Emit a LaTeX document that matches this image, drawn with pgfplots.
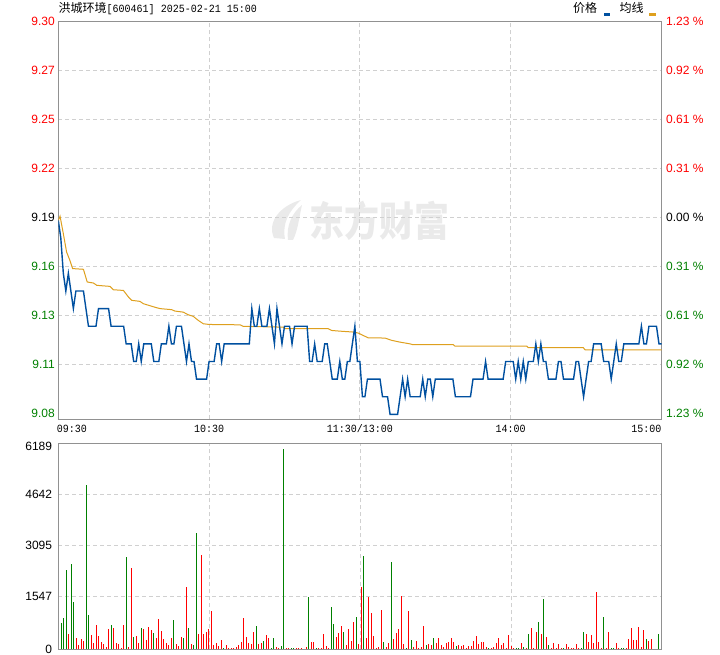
\documentclass[border=0pt]{standalone}
\usepackage{fontspec}
\setmainfont{Liberation Sans}
\newfontfamily\cjk{Noto Sans CJK SC}
\newfontfamily\monof{Liberation Mono}[FakeStretch=0.91]
\usepackage{pgfplots}
\pgfplotsset{compat=1.18}
\definecolor{pxred}{RGB}{255,0,0}
\definecolor{pxgreen}{RGB}{0,128,0}
\definecolor{pxblue}{RGB}{0,80,160}
\definecolor{pxgold}{RGB}{222,160,30}
\definecolor{gridc}{RGB}{208,208,208}
\definecolor{framec}{RGB}{145,145,145}
\definecolor{wmc}{RGB}{234,234,234}
\begin{document}
\begin{tikzpicture}[x=1pt,y=1pt]
\path[use as bounding box] (0,0) rectangle (720,655);
% watermark
\fill[wmc] (274,417) .. controls (267,432) and (279,449) .. (301,455) .. controls (289,444) and (282,432) .. (285,416) -- cycle;
\fill[wmc] (288,415) .. controls (286,429) and (292,442) .. (302,450) .. controls (299,437) and (298,425) .. (293,415) -- cycle;
\node[text=wmc, font=\cjk\fontsize{35}{35}\selectfont\bfseries, inner sep=0] at (379,434.5) {\scalebox{1}[1.16]{东方财富}};
% title
\node[anchor=base west, inner sep=0] at (58.5,642.5) {{\cjk\fontsize{12}{12}\selectfont 洪城环境}{\monof\fontsize{11}{11}\selectfont[600461] 2025-02-21 15:00}};
% legend
\node[anchor=base west, inner sep=0, font=\cjk\fontsize{12}{12}\selectfont] at (573,642) {价格};
\fill[pxblue] (604.3,639.2) rectangle (610,641.8);
\node[anchor=base west, inner sep=0, font=\cjk\fontsize{12}{12}\selectfont] at (619.3,642) {均线};
\fill[pxgold] (649.3,639.2) rectangle (656,641.8);

% ---------------- price panel ----------------
\begin{axis}[
  at={(58.3pt,235.7pt)}, anchor=south west,
  width=603.2pt, height=398pt, scale only axis,
  xmin=0, xmax=240, ymin=9.0772, ymax=9.303,
  axis line style={framec, line width=1pt},
  major tick length=0pt,
  xmajorgrids, ymajorgrids,
  grid style={gridc, line width=1pt, dash pattern=on 4pt off 3pt},
  xtick={60,120,180},
  xticklabels={10:30,11:30/13:00,14:00},
  extra x ticks={0,240},
  extra x tick labels={\makebox[0pt][l]{\hspace*{-1.5pt}09:30},\makebox[0pt][r]{15:00}},
  extra x tick style={grid=none},
  xticklabel style={font=\monof\fontsize{11}{11}\selectfont, anchor=base, inner sep=0pt, yshift=-13.4pt},
  ytick={9.1084,9.1362,9.164,9.1918,9.2196,9.2474,9.2752},
  yticklabels={\textcolor{pxgreen}{9.11},\textcolor{pxgreen}{9.13},\textcolor{pxgreen}{9.16},\textcolor{black}{9.19},\textcolor{pxred}{9.22},\textcolor{pxred}{9.25},\textcolor{pxred}{9.27}},
  extra y ticks={9.0806,9.303},
  extra y tick labels={\textcolor{pxgreen}{9.08},\textcolor{pxred}{9.30}},
  extra y tick style={grid=none},
  yticklabel style={font=\fontsize{12}{12}\selectfont, anchor=east, inner sep=0pt, xshift=-3.3pt},
]
\addplot[pxgold, line width=1pt, mark=none] coordinates {
(0,9.190)(0.7,9.1924)(2,9.1825)(3.3,9.1721)(4.6,9.1674)(5.7,9.1627)(10,9.1623)(11.5,9.1551)(14,9.1545)(15.3,9.1532)(20.6,9.1526)(21.9,9.1507)(25.9,9.1503)(27.9,9.1466)(29.2,9.1447)(32.5,9.1441)(33.8,9.1428)(39.1,9.1405)(40.5,9.1400)(45.1,9.1394)(46.4,9.1386)(49.7,9.1380)(51.7,9.1365)(53.7,9.1356)(55.7,9.1333)(57.7,9.1314)(60,9.1310)(72.3,9.1308)(73.6,9.1299)(89.5,9.1295)(90.2,9.1286)(107.4,9.1286)(108.8,9.1276)(112.1,9.1272)(117.4,9.1267)(119.4,9.1261)(120.7,9.1252)(123.3,9.1234)(130,9.1233)(132.6,9.1220)(135.9,9.1210)(139.9,9.1200)(141.2,9.1195)(157.2,9.1195)(157.8,9.1187)(186.4,9.1187)(187,9.1178)(208.9,9.1178)(209.6,9.1166)(240,9.1166)
};
\addplot[pxblue, line width=1.4pt, mark=none] coordinates {
(0,9.19)(1,9.18)(2,9.16)(3,9.15)(4,9.16)(5,9.15)(6,9.14)(7,9.15)(8,9.15)(9,9.15)(10,9.15)(11,9.14)(12,9.13)(13,9.13)(14,9.13)(15,9.13)(16,9.14)(17,9.14)(18,9.14)(19,9.14)(20,9.14)(21,9.13)(22,9.13)(23,9.13)(24,9.13)(25,9.13)(26,9.13)(27,9.12)(28,9.12)(29,9.12)(30,9.11)(31,9.11)(32,9.12)(33,9.11)(34,9.12)(35,9.12)(36,9.12)(37,9.12)(38,9.11)(39,9.11)(40,9.11)(41,9.12)(42,9.12)(43,9.12)(44,9.13)(45,9.12)(46,9.12)(47,9.13)(48,9.13)(49,9.13)(50,9.12)(51,9.11)(52,9.12)(53,9.11)(54,9.11)(55,9.10)(56,9.10)(57,9.10)(58,9.10)(59,9.10)(60,9.11)(61,9.11)(62,9.11)(63,9.12)(64,9.12)(65,9.11)(66,9.12)(67,9.12)(68,9.12)(69,9.12)(70,9.12)(71,9.12)(72,9.12)(73,9.12)(74,9.12)(75,9.12)(76,9.12)(77,9.14)(78,9.13)(79,9.13)(80,9.14)(81,9.13)(82,9.13)(83,9.13)(84,9.14)(85,9.13)(86,9.12)(87,9.14)(88,9.13)(89,9.12)(90,9.13)(91,9.13)(92,9.13)(93,9.12)(94,9.13)(95,9.13)(96,9.13)(97,9.13)(98,9.13)(99,9.13)(100,9.11)(101,9.11)(102,9.12)(103,9.11)(104,9.11)(105,9.11)(106,9.12)(107,9.12)(108,9.11)(109,9.10)(110,9.10)(111,9.10)(112,9.11)(113,9.10)(114,9.10)(115,9.11)(116,9.11)(117,9.12)(118,9.13)(119,9.11)(120,9.11)(121,9.09)(122,9.09)(123,9.10)(124,9.10)(125,9.10)(126,9.10)(127,9.10)(128,9.10)(129,9.09)(130,9.09)(131,9.09)(132,9.08)(133,9.08)(134,9.08)(135,9.08)(136,9.09)(137,9.10)(138,9.09)(139,9.10)(140,9.09)(141,9.09)(142,9.09)(143,9.09)(144,9.09)(145,9.10)(146,9.09)(147,9.10)(148,9.10)(149,9.09)(150,9.10)(151,9.10)(152,9.10)(153,9.10)(154,9.10)(155,9.10)(156,9.10)(157,9.10)(158,9.09)(159,9.09)(160,9.09)(161,9.09)(162,9.09)(163,9.09)(164,9.09)(165,9.10)(166,9.10)(167,9.10)(168,9.10)(169,9.10)(170,9.11)(171,9.10)(172,9.10)(173,9.10)(174,9.10)(175,9.10)(176,9.10)(177,9.10)(178,9.11)(179,9.11)(180,9.11)(181,9.11)(182,9.10)(183,9.11)(184,9.10)(185,9.11)(186,9.10)(187,9.11)(188,9.11)(189,9.11)(190,9.12)(191,9.11)(192,9.12)(193,9.11)(194,9.11)(195,9.10)(196,9.10)(197,9.10)(198,9.10)(199,9.11)(200,9.11)(201,9.10)(202,9.10)(203,9.10)(204,9.10)(205,9.10)(206,9.11)(207,9.11)(208,9.10)(209,9.09)(210,9.10)(211,9.11)(212,9.11)(213,9.12)(214,9.12)(215,9.12)(216,9.12)(217,9.11)(218,9.11)(219,9.11)(220,9.10)(221,9.11)(222,9.12)(223,9.11)(224,9.11)(225,9.12)(226,9.12)(227,9.12)(228,9.12)(229,9.12)(230,9.12)(231,9.12)(232,9.13)(233,9.12)(234,9.12)(235,9.13)(236,9.13)(237,9.13)(238,9.13)(239,9.12)(240,9.12)
};
\end{axis}

% right-hand percentage labels
\begin{axis}[
  at={(58.3pt,235.7pt)}, anchor=south west,
  width=603.2pt, height=398pt, scale only axis,
  xmin=0, xmax=240, ymin=9.0772, ymax=9.303,
  hide x axis, axis y line*=right, y axis line style={draw=none},
  major tick length=0pt,
  ytick={9.0806,9.1084,9.1362,9.164,9.1918,9.2196,9.2474,9.2752,9.303},
  yticklabels={\textcolor{pxgreen}{1.23 \%},\textcolor{pxgreen}{0.92 \%},\textcolor{pxgreen}{0.61 \%},\textcolor{pxgreen}{0.31 \%},\textcolor{black}{0.00 \%},\textcolor{pxred}{0.31 \%},\textcolor{pxred}{0.61 \%},\textcolor{pxred}{0.92 \%},\textcolor{pxred}{1.23 \%}},
  yticklabel style={font=\fontsize{12}{12}\selectfont, anchor=west, inner sep=0pt, xshift=4.5pt},
]
\end{axis}

% ---------------- volume panel ----------------
\begin{axis}[
  at={(58.3pt,5.7pt)}, anchor=south west,
  width=603.2pt, height=206pt, scale only axis,
  xmin=-1.2, xmax=240.08, ymin=0, ymax=6189,
  axis line style={framec, line width=1pt},
  major tick length=0pt,
  xmajorgrids, ymajorgrids,
  grid style={gridc, line width=1pt, dash pattern=on 4pt off 3pt},
  xtick={59.2,119.6,179.9}, xticklabels={},
  ytick={0,1592,3124,4657},
  yticklabels={0,1547,3095,4642},
  extra y ticks={6108}, extra y tick labels={6189},
  extra y tick style={grid=none},
  yticklabel style={font=\fontsize{12}{12}\selectfont, anchor=east, inner sep=0pt, xshift=-6pt},
]
\addplot[ycomb, pxred, line width=1pt, mark=none] coordinates {
(3,460)(6,340)(7,140)(8,310)(9,260)(12,430)(13,200)(14,730)(15,400)(16,220)(17,160)(18,80)(19,610)(21,640)(22,200)(23,170)(24,40)(25,730)(27,70)(28,2450)(30,400)(31,200)(33,620)(34,280)(35,670)(36,580)(38,340)(39,910)(40,550)(41,310)(42,200)(43,140)(44,340)(46,170)(47,100)(48,370)(50,1870)(52,160)(55,460)(56,2830)(57,460)(58,520)(59,610)(60,1150)(61,130)(62,190)(63,100)(64,280)(66,130)(67,40)(68,40)(69,40)(70,70)(71,130)(72,220)(73,940)(74,370)(75,190)(76,160)(77,520)(79,160)(80,190)(82,430)(83,340)(86,70)(87,40)(90,40)(91,40)(94,40)(95,40)(96,40)(98,70)(100,220)(101,220)(103,40)(104,40)(105,460)(106,100)(107,40)(110,370)(111,490)(112,700)(114,130)(115,610)(116,250)(117,820)(119,160)(120,1870)(122,340)(123,1570)(124,1090)(125,400)(126,40)(127,70)(128,1180)(130,70)(131,190)(133,310)(134,490)(135,610)(136,1600)(137,160)(139,1150)(141,70)(142,250)(143,40)(144,70)(145,700)(147,160)(148,130)(150,190)(151,340)(152,130)(153,70)(154,190)(155,220)(156,340)(157,220)(159,130)(160,100)(161,130)(162,40)(163,100)(164,100)(165,250)(166,400)(167,160)(168,220)(169,220)(170,70)(172,40)(173,70)(174,190)(175,340)(176,130)(177,190)(178,40)(179,430)(180,100)(181,40)(184,190)(186,40)(188,640)(189,40)(190,520)(192,460)(194,370)(196,40)(197,190)(198,40)(199,160)(200,40)(202,160)(203,70)(204,40)(205,40)(206,160)(207,40)(210,460)(211,220)(212,430)(213,190)(214,1720)(215,220)(216,40)(218,40)(219,520)(222,190)(223,40)(226,40)(227,310)(228,640)(229,280)(230,280)(231,670)(232,70)(233,580)(235,250)(236,310)
};
\addplot[ycomb, pxgreen, line width=1pt, mark=none] coordinates {
(0,800)(1,950)(2,2380)(4,2560)(5,1420)(10,4930)(11,1030)(20,730)(26,2770)(29,370)(32,640)(37,490)(45,880)(49,340)(51,640)(53,130)(54,3490)(65,40)(78,700)(81,250)(84,40)(85,340)(88,100)(89,6010)(92,40)(93,40)(99,1570)(102,40)(108,1270)(109,760)(113,520)(118,970)(121,2800)(129,220)(132,2620)(138,40)(140,280)(146,130)(149,340)(158,100)(171,40)(182,40)(183,40)(185,70)(187,460)(191,820)(193,1510)(195,130)(201,40)(208,40)(209,520)(217,970)(220,40)(221,40)(224,40)(225,40)(234,310)(239,460)
};
\end{axis}
\end{tikzpicture}
\end{document}
